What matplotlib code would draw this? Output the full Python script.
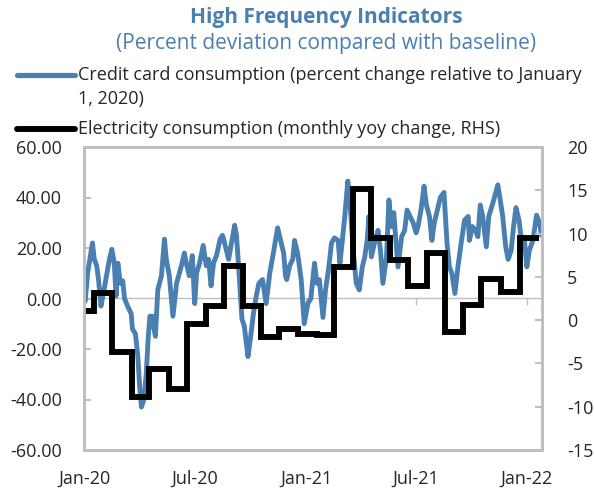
import numpy as np
import pandas as pd
import matplotlib
matplotlib.use("Agg")
import matplotlib.pyplot as plt
import matplotlib.dates as mdates
from matplotlib.ticker import FormatStrFormatter
from matplotlib.lines import Line2D

plt.rcParams['font.family'] = ['Open Sans', 'DejaVu Sans']
plt.rcParams['axes.unicode_minus'] = False

# credit card consumption, percent change relative to Jan 1 2020
cc_dates = [
    "2020-01-02", "2020-01-06", "2020-01-10", "2020-01-14", "2020-01-17", "2020-01-21", "2020-01-24", "2020-01-28",
    "2020-02-01", "2020-02-05", "2020-02-11", "2020-02-15", "2020-02-19", "2020-02-22", "2020-02-25", "2020-02-29",
    "2020-03-04", "2020-03-07", "2020-03-12", "2020-03-18", "2020-03-20", "2020-03-25", "2020-03-29",
    "2020-04-01", "2020-04-04", "2020-04-08", "2020-04-12", "2020-04-15", "2020-04-18", "2020-04-22", "2020-04-24", "2020-04-27",
    "2020-05-01", "2020-05-07", "2020-05-12", "2020-05-15", "2020-05-20", "2020-05-26",
    "2020-06-01", "2020-06-09", "2020-06-14", "2020-06-17", "2020-06-22", "2020-06-27",
    "2020-07-01", "2020-07-04", "2020-07-09", "2020-07-15", "2020-07-20", "2020-07-24", "2020-07-28",
    "2020-08-01", "2020-08-06", "2020-08-12", "2020-08-16", "2020-08-22", "2020-08-26", "2020-08-30",
    "2020-09-05", "2020-09-08", "2020-09-13", "2020-09-17", "2020-09-21", "2020-09-27",
    "2020-10-01", "2020-10-06", "2020-10-10", "2020-10-15", "2020-10-21", "2020-10-27",
    "2020-11-02", "2020-11-08", "2020-11-15", "2020-11-21", "2020-11-25", "2020-11-28", "2020-11-30",
    "2020-12-05", "2020-12-10", "2020-12-13", "2020-12-18", "2020-12-24", "2020-12-29",
    "2021-01-04", "2021-01-09", "2021-01-15", "2021-01-19", "2021-01-23", "2021-01-29",
    "2021-02-02", "2021-02-08", "2021-02-12", "2021-02-17", "2021-02-23", "2021-02-26",
    "2021-03-02", "2021-03-06", "2021-03-11", "2021-03-15", "2021-03-20", "2021-03-25", "2021-03-30",
    "2021-04-04", "2021-04-08", "2021-04-12", "2021-04-15", "2021-04-19", "2021-04-25", "2021-04-30",
    "2021-05-04", "2021-05-08", "2021-05-14", "2021-05-18", "2021-05-22", "2021-05-26", "2021-05-29",
    "2021-06-02", "2021-06-08", "2021-06-13", "2021-06-17", "2021-06-22", "2021-06-27",
    "2021-07-02", "2021-07-05", "2021-07-10", "2021-07-15", "2021-07-19", "2021-07-24", "2021-07-28",
    "2021-08-01", "2021-08-06", "2021-08-11", "2021-08-17", "2021-08-22", "2021-08-26", "2021-08-30",
    "2021-09-04", "2021-09-09", "2021-09-15", "2021-09-20", "2021-09-26", "2021-09-28",
    "2021-10-03", "2021-10-08", "2021-10-12", "2021-10-16", "2021-10-20", "2021-10-26", "2021-10-30",
    "2021-11-06", "2021-11-14", "2021-11-18", "2021-11-22", "2021-11-27",
    "2021-12-01", "2021-12-06", "2021-12-10", "2021-12-14", "2021-12-19", "2021-12-23", "2021-12-28",
    "2022-01-01", "2022-01-05", "2022-01-11", "2022-01-17", "2022-01-22", "2022-01-25",
]
cc_values = [
    -1, 10, 16, 22, 15.5, 13, 7.5, -3,
    2, 7.5, 15.5, 19.5, 14, 1, 14, 6,
    7, 0, -3, -6, -12, -14, -23,
    -35, -43, -40, -29.5, -16, -7, -7, -11, -15,
    3.5, 9, 23.5, 15.5, 9, -7,
    6, 13, 18, 14, 9, 17,
    -2, 10, 14, 21, 13, 15.5, 5,
    14, 17, 23.5, 25, 19.5, 15.5, 21,
    29, 25, 7.5, -8, -11, -23,
    -16, -6, 0, 6, 7.5, -2,
    10, 18, 28, 22, 18, 9, 7.5,
    13, 15.5, 23, 18, 7.5, -10,
    -2, 0, 14, 6, 7.5, -7.5,
    3, 13, 22, 24, 23, 14,
    23, 32.5, 46.5, 36.5, 19, 6, 3.4,
    12.5, 16.5, 23, 32.5, 16.5, 23, 27,
    19, 6, 16.5, 39, 28.5, 34, 24.5,
    12.5, 24.5, 27, 35, 32.5, 30,
    26, 28.5, 35, 44.5, 37, 32.5, 23,
    30, 35, 40, 42, 22, 12.5, 10,
    2, 12.5, 23, 31, 32.5, 23,
    28.5, 27, 24.5, 37, 32.5, 20.5, 32.5,
    38, 45, 39, 32.5, 20.5,
    15.5, 19, 28.5, 36, 31, 23, 23,
    12.5, 19, 23, 33, 30, 25,
]

# electricity consumption, monthly yoy change (RHS)
elec_dates = [
    "2020-01-01", "2020-01-17", "2020-02-16", "2020-03-20", "2020-04-17", "2020-05-19",
    "2020-06-19", "2020-07-19", "2020-08-19", "2020-09-18", "2020-10-18", "2020-11-18",
    "2020-12-18", "2021-01-19", "2021-02-17", "2021-03-19", "2021-04-18", "2021-05-19",
    "2021-06-18", "2021-07-20", "2021-08-18", "2021-09-17", "2021-10-18", "2021-11-19",
    "2021-12-20",
]
elec_values = [
    1.0, 3.1, -3.7, -8.9, -5.7, -7.9,
    -0.4, 1.6, 6.3, 1.6, -2.0, -1.0,
    -1.6, -1.7, 6.1, 15.1, 9.5, 7.0,
    3.9, 7.8, -1.4, 1.8, 4.7, 3.3,
    9.5,
]
elec_end = "2022-01-21"

title = "High Frequency Indicators"
subtitle = "(Percent deviation compared with baseline)"
cc_label = ["Credit card consumption (percent change relative to January", "1, 2020)"]
elec_label = "Electricity consumption (monthly yoy change, RHS)"
xtick_dates = ["2020-01-01", "2020-07-01", "2021-01-01", "2021-07-01", "2022-01-01"]

blue = "#4A7FB1"
gray = "#BFBFBF"
txt = "#262626"
W, H = 594, 493

fig = plt.figure(figsize=(W / 100, H / 100), dpi=100)
ax = fig.add_axes([84 / W, 1 - 450 / H, (542 - 84) / W, (450 - 147) / H])
ax2 = ax.twinx()

# zero line of the left axis, with the date ticks hanging from it
sec = ax.secondary_xaxis(0.5)
sec.set_xticks(mdates.date2num(pd.to_datetime(xtick_dates)))
sec.tick_params(axis='x', direction='in', length=5, width=1, color=gray,
                labeltop=False, labelbottom=False)
for s in sec.spines.values():
    s.set_color(gray)
    s.set_linewidth(1)

ax.plot(pd.to_datetime(cc_dates), cc_values, color=blue, lw=3.5,
        solid_joinstyle='round', solid_capstyle='round')

ex = list(pd.to_datetime(elec_dates)) + [pd.Timestamp(elec_end)]
ey = elec_values + [elec_values[-1]]
ax2.plot(ex, ey, drawstyle='steps-post', color='black', lw=4.25,
         solid_joinstyle='miter', solid_capstyle='butt')

ax.set_xlim(pd.Timestamp("2019-12-31"), pd.Timestamp("2022-01-26"))
ax.set_ylim(-60, 60)
ax.set_yticks(np.arange(-60, 61, 20))
ax.yaxis.set_major_formatter(FormatStrFormatter('%.2f'))
ax.set_xticks(pd.to_datetime(xtick_dates))
ax.xaxis.set_major_formatter(mdates.DateFormatter('%b-%y'))

ax2.set_ylim(-15, 20)
ax2.set_yticks(np.arange(-15, 21, 5))

ax.tick_params(axis='y', direction='in', length=5, width=1.5, color=gray,
               labelsize=13, labelcolor=txt, pad=16)
ax.tick_params(axis='x', length=0, labelsize=13, labelcolor=txt, pad=14)
ax2.tick_params(axis='y', direction='in', length=5, width=1.5, color=gray,
                labelsize=13, labelcolor=txt, pad=18)

for a in (ax, ax2):
    for s in a.spines.values():
        s.set_color(gray)
        s.set_linewidth(2)

# titles
fig.text(326 / W, 1 - 17 / H, title, ha='center', va='center',
         fontsize=15, fontweight='bold', color=blue)
fig.text(326 / W, 1 - 43 / H, subtitle, ha='center', va='center',
         fontsize=15, color=blue)

# legend drawn by hand so the handle sits on the first line of a wrapped label
fig.add_artist(Line2D([17 / W, 75 / W], [1 - 75 / H] * 2, color=blue, lw=3.75,
                      solid_capstyle='round'))
fig.text(78 / W, 1 - 75 / H, cc_label[0], ha='left', va='center', fontsize=13, color=txt)
fig.text(78 / W, 1 - 99 / H, cc_label[1], ha='left', va='center', fontsize=13, color=txt)
fig.add_artist(Line2D([17 / W, 75 / W], [1 - 129 / H] * 2, color='black', lw=4.25,
                      solid_capstyle='round'))
fig.text(78 / W, 1 - 129 / H, elec_label, ha='left', va='center', fontsize=13, color=txt)

fig.savefig("out.png", dpi=100)
